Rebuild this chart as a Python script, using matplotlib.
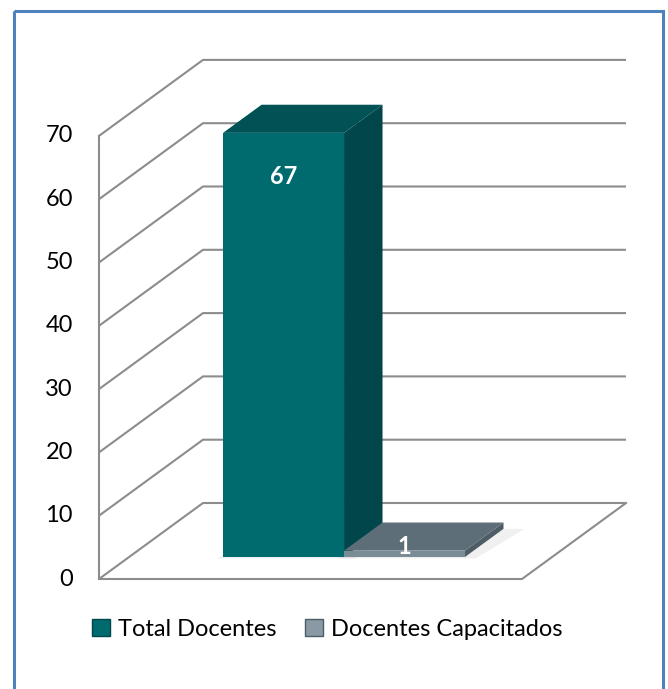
import numpy as np
import matplotlib
matplotlib.use("Agg")
from matplotlib import pyplot as plt
from matplotlib.patches import Polygon, Rectangle, Patch

plt.rcParams['font.family'] = ['Lato', 'DejaVu Sans']

## dados ##
categorias = ['Total Docentes', 'Docentes Capacitados']
valores = [67, 1]
ticks = [0, 10, 20, 30, 40, 50, 60, 70]

cor_frente = ['#006B6F', '#7A8C96']
cor_topo = ['#005254', '#5E6E78']
cor_lado = ['#00464A', '#4E5C66']

## geometria do "3D" (pixels) ##
x0, y0 = 99, 579          # canto frontal esquerdo do piso
larg = 423                 # largura do piso
dx, dy = 104, 76           # deslocamento de profundidade
esc = 6.33                 # pixels por unidade
ymax = 70


def proj(xf, v, d):
    return x0 + xf * larg + d * dx, y0 - v * esc - d * dy


fig = plt.figure(figsize=(6.68, 6.89), dpi=100)
ax = fig.add_axes([0, 0, 1, 1])
ax.set_xlim(0, 668)
ax.set_ylim(689, 0)
ax.axis('off')

cinza = '#8C8C8C'
lw = 1.5

# parede lateral + grades
for t in ticks:
    xa, ya = proj(0, t, 0)
    xb, yb = proj(0, t, 1)
    xc, yc = proj(1, t, 1)
    ax.plot([xa, xb, xc], [ya, yb, yc], color=cinza, lw=lw, solid_capstyle='butt')
    ax.text(xa - 26, ya, str(t), ha='right', va='center', fontsize=17, color='black')

xa, ya = proj(0, 0, 0)
xb, yb = proj(0, ymax, 0)
ax.plot([xa, xb], [ya, yb], color=cinza, lw=lw)

# piso
p = [proj(0, 0, 0), proj(1, 0, 0), proj(1, 0, 1)]
ax.plot([q[0] for q in p], [q[1] for q in p], color=cinza, lw=lw)

# barras
larg_barra = 0.286
inicio = 0.222
d1, d2 = 0.29, 0.66
for i, (cat, v) in enumerate(zip(categorias, valores)):
    xl = inicio + i * larg_barra
    xr = xl + larg_barra
    # sombra suave
    ax.add_patch(Polygon([proj(xl - 0.01, 0, d1 - 0.02), proj(xr + 0.03, 0, d1 - 0.02),
                          proj(xr + 0.05, 0, d2), proj(xl + 0.02, 0, d2)],
                         closed=True, color='#000000', alpha=0.06, lw=0))
    frente = [proj(xl, 0, d1), proj(xr, 0, d1), proj(xr, v, d1), proj(xl, v, d1)]
    topo = [proj(xl, v, d1), proj(xr, v, d1), proj(xr, v, d2), proj(xl, v, d2)]
    lado = [proj(xr, 0, d1), proj(xr, 0, d2), proj(xr, v, d2), proj(xr, v, d1)]
    ax.add_patch(Polygon(lado, closed=True, fc=cor_lado[i], ec='none', zorder=3))
    ax.add_patch(Polygon(topo, closed=True, fc=cor_topo[i], ec='none', zorder=3))
    ax.add_patch(Polygon(frente, closed=True, fc=cor_frente[i], ec='none', zorder=3))
    # rotulo
    xt, yt = proj((xl + xr) / 2, v, d1)
    if v > 10:
        yt = yt + 44
    else:
        yt = yt - 4
    ax.text(xt, yt, str(v), ha='center', va='center', fontsize=17, fontweight='bold',
            color='white', zorder=5)

# borda azul
ax.add_patch(Rectangle((13.5, 10.5), 649, 700, fill=False, ec='#4F81BD', lw=2.2, zorder=6))

# legenda
handles = [Patch(fc=cor_frente[0], ec=cor_lado[0]), Patch(fc='#8A9AA4', ec=cor_lado[1])]
fig.legend(handles, categorias, loc='center', bbox_to_anchor=(0.49, 0.087), ncol=2,
           frameon=False, fontsize=17, handlelength=0.75, handleheight=0.75,
           handletextpad=0.35, columnspacing=1.2)

plt.savefig('out.png', dpi=100)
